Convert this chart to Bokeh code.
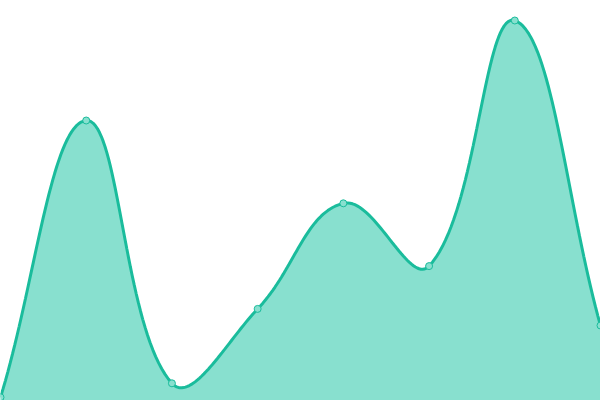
import numpy as np
from bokeh.plotting import figure
from bokeh.models import Range1d
from bokeh.embed import file_html
from bokeh.resources import INLINE

# data (index positions and values on a 0-100 scale)
categories = [0, 1, 2, 3, 4, 5, 6, 7]
values = [0.8, 70.0, 4.3, 22.9, 49.3, 33.6, 95.0, 18.75]

LINE = "#1abc9c"
FILL = "#88e0cf"

W, H = 600, 400
# pixel scale of one unit in each direction (used for distance-weighted spline)
SX = W / 7
SY = H / 100


def spline(xs, ys, t=0.4, steps=40):
    px = np.array(xs, float) * SX
    py = np.array(ys, float) * SY
    n = len(px)
    cps = []
    for i in range(n):
        pi = max(i - 1, 0)
        ni = min(i + 1, n - 1)
        d01 = np.hypot(px[i] - px[pi], py[i] - py[pi])
        d12 = np.hypot(px[ni] - px[i], py[ni] - py[i])
        s01 = d01 / (d01 + d12) if (d01 + d12) else 0
        s12 = d12 / (d01 + d12) if (d01 + d12) else 0
        fa, fb = t * s01, t * s12
        dx, dy = px[ni] - px[pi], py[ni] - py[pi]
        cps.append(((px[i] - fa * dx, py[i] - fa * dy), (px[i] + fb * dx, py[i] + fb * dy)))
    ox, oy = [], []
    for i in range(n - 1):
        x0, y0 = px[i], py[i]
        c1x, c1y = cps[i][1]
        c2x, c2y = cps[i + 1][0]
        x1, y1 = px[i + 1], py[i + 1]
        tt = np.linspace(0, 1, steps, endpoint=(i == n - 2))
        a = (1 - tt) ** 3
        b = 3 * (1 - tt) ** 2 * tt
        c = 3 * (1 - tt) * tt ** 2
        d = tt ** 3
        ox.extend(a * x0 + b * c1x + c * c2x + d * x1)
        oy.extend(a * y0 + b * c1y + c * c2y + d * y1)
    return np.array(ox) / SX, np.array(oy) / SY


cx, cy = spline(categories, values)

p = figure(width=W, height=H, output_backend="svg", toolbar_location=None,
           x_range=Range1d(0, 7), y_range=Range1d(0, 100),
           min_border=0, min_border_left=0, min_border_right=0,
           min_border_top=0, min_border_bottom=0)
p.axis.visible = False
p.grid.visible = False
p.outline_line_color = None
p.background_fill_color = "white"
p.border_fill_color = "white"

p.varea(x=cx, y1=np.zeros_like(cy) - 10, y2=cy, fill_color=FILL, fill_alpha=1.0)
p.line(cx, cy, line_color=LINE, line_width=3)
p.scatter(categories, values, size=7, fill_color=FILL, line_color=LINE, line_width=1)

open("out.html", "w").write(file_html(p, INLINE))
